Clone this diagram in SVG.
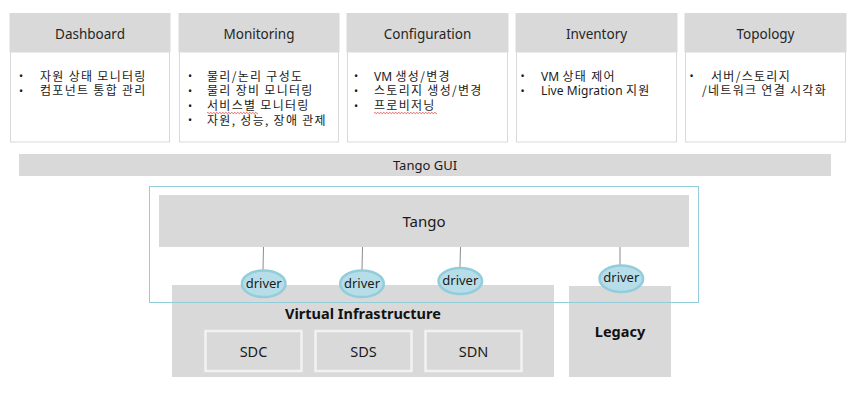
<svg xmlns="http://www.w3.org/2000/svg" width="863" height="405" viewBox="0 0 863 405">
<style>
  .hdr { fill: #d9d9d9; }
  .body { fill: #ffffff; stroke: #d9d9d9; stroke-width: 1; }
  .t { font-family: "Noto Sans", "Noto Sans CJK KR", sans-serif; fill: #1a1a1a; }
  .ht { font-size: 13.5px; text-anchor: middle; fill: #262626; }
  .li { font-family: "Noto Sans CJK KR", "Noto Sans", sans-serif; font-size: 12px; letter-spacing: 1.3px; }
  .lat { font-family: "Noto Sans", sans-serif; letter-spacing: 0.1px; }
  .bul { font-size: 11px; text-anchor: middle; }
  .gray { fill: #d9d9d9; }
  .sub { fill: #d9d9d9; stroke: #f2f2f2; stroke-width: 2.5; }
  .bold { font-weight: bold; text-anchor: middle; fill: #111; }
  .mid { text-anchor: middle; }
  .drv { fill: #b7dee8; stroke: #92cddc; stroke-width: 2.5; }
  .conn { stroke: #8c8c8c; stroke-width: 1; fill: none; }
  .wave { stroke: #e03030; stroke-width: 0.8; fill: none; }
</style>
<rect width="863" height="405" fill="#ffffff"/>

<g id="dashboard">
  <rect class="body" x="10.5" y="52" width="159" height="90"/>
  <rect class="hdr" x="9.5" y="13" width="161" height="39"/>
  <text class="t ht" x="90" y="38.5">Dashboard</text>
  <text class="t bul" x="21" y="80">•</text>
  <text class="t li" x="40" y="80.5">자원 상태 모니터링</text>
  <text class="t bul" x="21" y="94.8">•</text>
  <text class="t li" x="40" y="95.3">컴포넌트 통합 관리</text>
</g>

<g id="monitoring">
  <rect class="body" x="179.5" y="52" width="159" height="90"/>
  <rect class="hdr" x="178.5" y="13" width="161" height="39"/>
  <text class="t ht" x="259" y="38.5">Monitoring</text>
  <text class="t bul" x="190" y="80">•</text>
  <text class="t li" x="207" y="80.5">물리/논리 구성도</text>
  <text class="t bul" x="190" y="94.8">•</text>
  <text class="t li" x="207" y="95.3">물리 장비 모니터링</text>
  <text class="t bul" x="190" y="109.6">•</text>
  <text class="t li" x="207" y="110.1">서비스별 모니터링</text>
  <path class="wave" d="M207,113 q0.75,-1.2 1.5,0 t1.5,0 t1.5,0 t1.5,0 t1.5,0 t1.5,0 t1.5,0 t1.5,0 t1.5,0 t1.5,0 t1.5,0 t1.5,0 t1.5,0 t1.5,0 t1.5,0 t1.5,0 t1.5,0 t1.5,0 t1.5,0 t1.5,0 t1.5,0 t1.5,0 t1.5,0 t1.5,0 t1.5,0 t1.5,0 t1.5,0 t1.5,0 t1.5,0 t1.5,0 t1.5,0 t1.5,0 t1.5,0 t1.5,0"/>
  <text class="t bul" x="190" y="124.4">•</text>
  <text class="t li" x="207" y="124.9">자원, 성능, 장애 관제</text>
</g>

<g id="configuration">
  <rect class="body" x="347.5" y="52" width="160" height="90"/>
  <rect class="hdr" x="346.5" y="13" width="162" height="39"/>
  <text class="t ht" x="427.5" y="38.5">Configuration</text>
  <text class="t bul" x="356" y="80">•</text>
  <text class="t li" x="374" y="80.5"><tspan class="lat">VM </tspan>생성/변경</text>
  <text class="t bul" x="356" y="94.8">•</text>
  <text class="t li" x="374" y="95.3">스토리지 생성/변경</text>
  <text class="t bul" x="356" y="109.6">•</text>
  <text class="t li" x="374" y="110.1">프로비저닝</text>
  <path class="wave" d="M374,113 q0.75,-1.2 1.5,0 t1.5,0 t1.5,0 t1.5,0 t1.5,0 t1.5,0 t1.5,0 t1.5,0 t1.5,0 t1.5,0 t1.5,0 t1.5,0 t1.5,0 t1.5,0 t1.5,0 t1.5,0 t1.5,0 t1.5,0 t1.5,0 t1.5,0 t1.5,0 t1.5,0 t1.5,0 t1.5,0 t1.5,0 t1.5,0 t1.5,0 t1.5,0 t1.5,0 t1.5,0 t1.5,0 t1.5,0 t1.5,0 t1.5,0 t1.5,0 t1.5,0 t1.5,0 t1.5,0 t1.5,0 t1.5,0 t1.5,0 t1.5,0"/>
</g>

<g id="inventory">
  <rect class="body" x="516.5" y="52" width="160" height="90"/>
  <rect class="hdr" x="515.5" y="13" width="162" height="39"/>
  <text class="t ht" x="596.5" y="38.5">Inventory</text>
  <text class="t bul" x="522.5" y="80">•</text>
  <text class="t li" x="541" y="80.5"><tspan class="lat">VM </tspan>상태 제어</text>
  <text class="t bul" x="522.5" y="94.8">•</text>
  <text class="t li" x="541" y="95.3"><tspan class="lat">Live Migration </tspan>지원</text>
</g>

<g id="topology">
  <rect class="body" x="685.5" y="52" width="160" height="90"/>
  <rect class="hdr" x="684.5" y="13" width="162" height="39"/>
  <text class="t ht" x="765.5" y="38.5">Topology</text>
  <text class="t bul" x="691.5" y="80">•</text>
  <text class="t li" x="711" y="80.5">서버/스토리지</text>
  <text class="t li" x="702" y="95.3">/네트워크 연결 시각화</text>
</g>

<g id="tango-gui">
  <rect class="gray" x="19" y="154" width="812" height="22"/>
  <text class="t mid" x="425" y="170" font-size="13" fill="#262626">Tango GUI</text>
</g>

<g id="virtual-infrastructure">
  <rect class="gray" x="172" y="285" width="382" height="92"/>
  <text class="t bold" x="363" y="319" font-size="14.5">Virtual Infrastructure</text>
</g>
<g id="sdc">
  <rect class="sub" x="205.5" y="331" width="96" height="40"/>
  <text class="t mid" x="253.5" y="356.5" font-size="14.5" fill="#262626">SDC</text>
</g>
<g id="sds">
  <rect class="sub" x="315.5" y="331" width="96" height="40"/>
  <text class="t mid" x="363.5" y="356.5" font-size="14.5" fill="#262626">SDS</text>
</g>
<g id="sdn">
  <rect class="sub" x="425.5" y="331" width="96" height="40"/>
  <text class="t mid" x="473.5" y="356.5" font-size="14.5" fill="#262626">SDN</text>
</g>

<g id="legacy">
  <rect class="gray" x="569" y="286" width="102" height="91"/>
  <text class="t bold" x="620" y="337" font-size="14.5">Legacy</text>
</g>

<g id="tango-boundary">
  <rect x="149.5" y="186.5" width="549" height="116" fill="none" stroke="#92cddc" stroke-width="1"/>
</g>

<g id="tango">
  <rect class="gray" x="159" y="195" width="530" height="52"/>
  <text class="t mid" x="424" y="226.5" font-size="15" fill="#262626">Tango</text>
</g>

<g id="connectors">
  <line class="conn" x1="263.5" y1="247" x2="263" y2="270"/>
  <line class="conn" x1="362.5" y1="247" x2="362" y2="270"/>
  <line class="conn" x1="460.5" y1="247" x2="460" y2="267"/>
  <line class="conn" x1="620" y1="247" x2="620" y2="265"/>
</g>

<g id="driver-1">
  <ellipse class="drv" cx="263.7" cy="283.8" rx="21.8" ry="13.3"/>
  <text class="t mid" x="263.7" y="287.5" font-size="13">driver</text>
</g>
<g id="driver-2">
  <ellipse class="drv" cx="362" cy="283.8" rx="21.8" ry="13.3"/>
  <text class="t mid" x="362" y="287.5" font-size="13">driver</text>
</g>
<g id="driver-3">
  <ellipse class="drv" cx="460.3" cy="281" rx="21.8" ry="13"/>
  <text class="t mid" x="460.3" y="284.7" font-size="13">driver</text>
</g>
<g id="driver-4">
  <ellipse class="drv" cx="621.3" cy="278.7" rx="21.8" ry="13.3"/>
  <text class="t mid" x="621.3" y="282.4" font-size="13">driver</text>
</g>
</svg>
